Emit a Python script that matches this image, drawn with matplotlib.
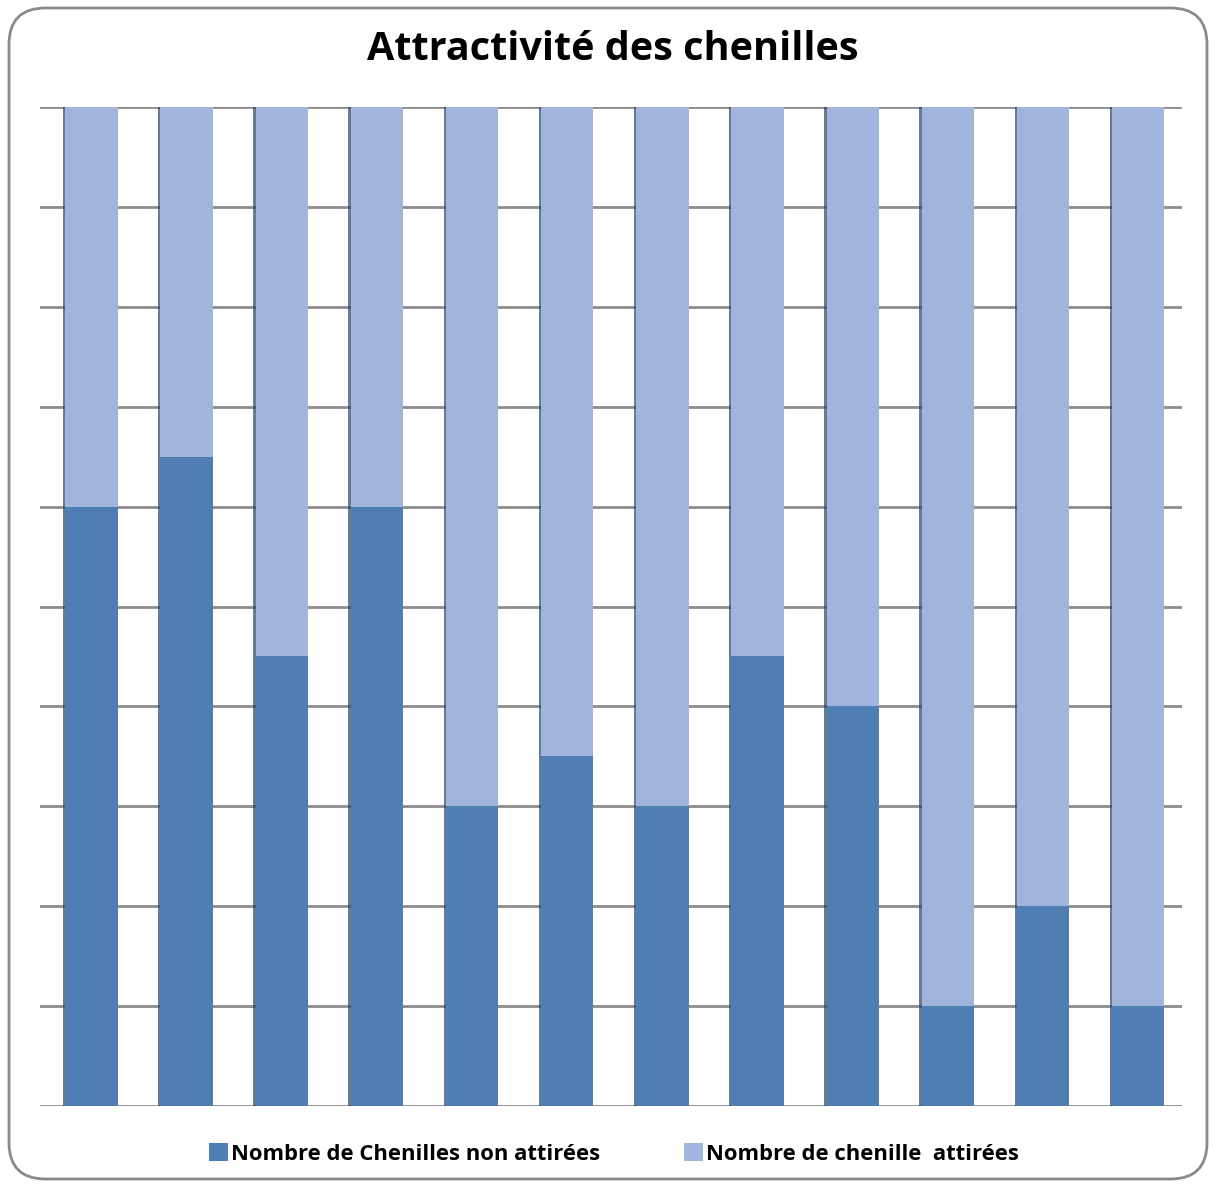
import matplotlib
matplotlib.use("Agg")
import matplotlib.pyplot as plt
import matplotlib.patheffects as pe
from matplotlib.patches import FancyBboxPatch
import numpy as np

categories = [str(i) for i in range(1, 13)]
non_attirees = [12, 13, 9, 12, 6, 7, 6, 9, 8, 2, 4, 2]
attirees = [8, 7, 11, 8, 14, 13, 14, 11, 12, 18, 16, 18]
series_names = ["Nombre de Chenilles non attirées", "Nombre de chenille  attirées"]

plt.rcParams['font.family'] = ['Open Sans', 'DejaVu Sans']

W, H = 1216, 1187
fig = plt.figure(figsize=(W / 100, H / 100), dpi=100)

# rounded frame
frame = FancyBboxPatch((9 / W, 8 / H), (1207 - 9) / W, (1179 - 8) / H,
                       boxstyle="round,pad=0,rounding_size=0.03",
                       transform=fig.transFigure, facecolor="white",
                       edgecolor="#8a8a8a", linewidth=2, zorder=-5,
                       mutation_aspect=W / H)
fig.patches.append(frame)

ax = fig.add_axes([40 / W, (H - 1106) / H, (1182 - 40) / W, (1106 - 107) / H])
ax.set_facecolor("none")
ax.set_zorder(2)

tot = np.array(non_attirees) + np.array(attirees)
p1 = np.array(non_attirees) / tot * 100
p2 = np.array(attirees) / tot * 100
x = np.arange(len(categories))
shadow = [pe.SimplePatchShadow(offset=(-1.6, 0), shadow_rgbFace="#2a4262", alpha=0.7), pe.Normal()]
b1 = ax.bar(x, p1, width=0.55, color="#4F7EB5", label=series_names[0], zorder=3)
b2 = ax.bar(x, p2, bottom=p1, width=0.55, color="#A0B4DC", label=series_names[1], zorder=3)
for b in list(b1) + list(b2):
    b.set_path_effects(shadow)

ax.set_xlim(-0.54, len(categories) - 0.54)
ax.set_ylim(0, 100)
ax.set_yticks(np.arange(0, 101, 10))
ax.yaxis.grid(True, color="#8c8c8c", linewidth=2)
ax.set_axisbelow(True)
ax.tick_params(left=False, bottom=False, labelleft=False, labelbottom=False)
for s in ax.spines.values():
    s.set_visible(False)

fig.text(0.5 + 4.5 / W, (H - 50) / H, "Attractivité des chenilles", ha="center", va="center",
         fontsize=28.5, fontweight="bold", zorder=3)

leg = fig.legend(handles=[b1, b2], labels=series_names, loc="center",
                 bbox_to_anchor=(614 / W, (H - 1154) / H), ncol=2, frameon=False,
                 prop={"weight": "bold", "size": 15.8}, handlelength=0.85, handleheight=0.85,
                 handletextpad=0.12, columnspacing=3.85)
leg.set_zorder(3)
for h in leg.legend_handles:
    h.set_path_effects([])

fig.savefig("out.png", dpi=100)
